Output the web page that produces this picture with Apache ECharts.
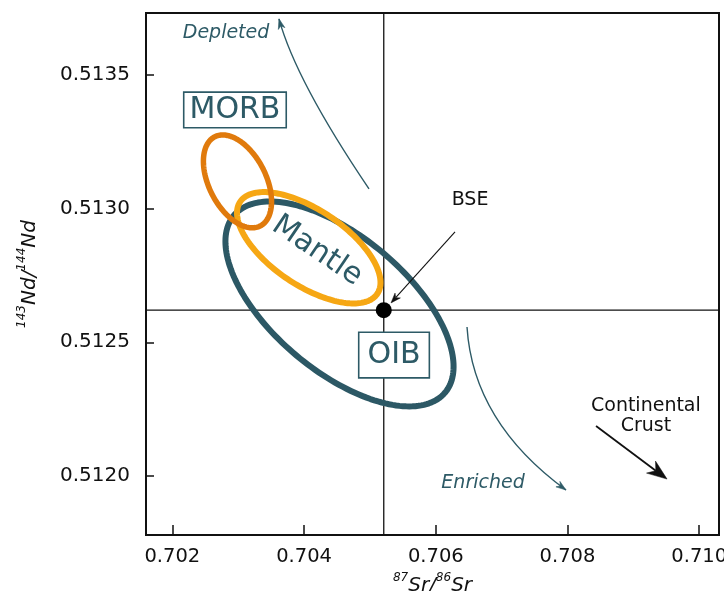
<!DOCTYPE html>
<html>
<head>
<meta charset="utf-8">
<script src="https://cdn.jsdelivr.net/npm/echarts@6/dist/echarts.min.js"></script>
<style>
  html, body { margin: 0; padding: 0; background: #ffffff; }
  #chart { width: 724px; height: 591px; }
</style>
</head>
<body>
<div id="chart"></div>
<script>
// Axis extents and tick values
const xRange = [0.7016, 0.7103];
const yRange = [0.51178, 0.51373];
const xTicks = [0.702, 0.704, 0.706, 0.708, 0.710];
const yTicks = [0.5120, 0.5125, 0.5130, 0.5135];

// Bulk Silicate Earth reference composition
const bse = [0.70521, 0.51262];

// Reservoir fields: centre plus the end points of two conjugate semi-axes
const fieldNames   = ['OIB', 'Mantle', 'MORB'];
const fieldCenterX = [0.704538, 0.704071, 0.702989];
const fieldCenterY = [0.512643, 0.512853, 0.513101];
const fieldMajorX  = [0.706141, 0.705112, 0.703331];
const fieldMajorY  = [0.512312, 0.512681, 0.512934];
const fieldMinorX  = [0.705194, 0.704392, 0.703377];
const fieldMinorY  = [0.512835, 0.512970, 0.513148];

// Curved evolution trends: start, control and end points
const trendNames  = ['Depleted', 'Enriched'];
const trendStartX = [0.704986, 0.706474];
const trendStartY = [0.513073, 0.512557];
const trendCtrlX  = [0.703878, 0.706565];
const trendCtrlY  = [0.513476, 0.512202];
const trendEndX   = [0.703619, 0.707977];
const trendEndY   = [0.513708, 0.511948];

// Straight pointers: BSE call-out and continental crust direction
const pointerNames  = ['BSE', 'Crust'];
const pointerStartX = [0.706292, 0.708433];
const pointerStartY = [0.512912, 0.512187];
const pointerEndX   = [0.705320, 0.709511];
const pointerEndY   = [0.512647, 0.511989];

// Text annotations
const labelTexts = ['Depleted', 'MORB', 'Mantle', 'OIB', 'Enriched', 'Continental\nCrust', 'BSE'];
const labelX = [0.702815, 0.702951, 0.704196, 0.705366, 0.706717, 0.709190, 0.706520];
const labelY = [0.513655, 0.513368, 0.512841, 0.512452, 0.511974, 0.512226, 0.513030];

// ---- styling ----
const FONT = 'DejaVu Sans';
const TEAL = '#2d5a66';
const INK = '#111111';
const fieldStyle = {
  OIB:    { color: '#2c5865', width: 6 },
  Mantle: { color: '#f6a714', width: 6 },
  MORB:   { color: '#e07a0c', width: 5.5 }
};
const pointerStyle = {
  BSE:   { color: '#111111', width: 1.1, head: 10, half: 3.6 },
  Crust: { color: '#111111', width: 1.8, head: 20, half: 7.5 }
};
const labelStyle = {
  'Depleted': { fontSize: 19, fontStyle: 'italic', color: TEAL },
  'Enriched': { fontSize: 19, fontStyle: 'italic', color: TEAL },
  'MORB': { fontSize: 30, color: TEAL, borderColor: TEAL, borderWidth: 1.6,
            backgroundColor: '#ffffff', padding: [3, 5, 1, 5] },
  'OIB':  { fontSize: 30, color: TEAL, borderColor: TEAL, borderWidth: 1.6,
            backgroundColor: '#ffffff', padding: [8, 8, 6, 8] },
  'Mantle': { fontSize: 30, color: TEAL, rotate: -34 },
  'Continental\nCrust': { fontSize: 19, color: INK, lineHeight: 20, align: 'center' },
  'BSE': { fontSize: 19, color: INK }
};

function arrowHead(tip, from, len, half) {
  const dx = tip[0] - from[0], dy = tip[1] - from[1];
  const d = Math.sqrt(dx * dx + dy * dy) || 1;
  const ux = dx / d, uy = dy / d, nx = -uy, ny = ux;
  return [
    tip,
    [tip[0] - ux * len + nx * half, tip[1] - uy * len + ny * half],
    [tip[0] - ux * len * 0.7, tip[1] - uy * len * 0.7],
    [tip[0] - ux * len - nx * half, tip[1] - uy * len - ny * half]
  ];
}

const chart = echarts.init(document.getElementById('chart'), null, { renderer: 'canvas' });

const nameRich = {
  it: { fontFamily: FONT, fontSize: 20, fontStyle: 'italic', color: INK, verticalAlign: 'bottom', lineHeight: 24 },
  sup: { fontFamily: FONT, fontSize: 12, fontStyle: 'italic', color: INK, verticalAlign: 'top', lineHeight: 12 }
};

const option = {
  animation: false,
  backgroundColor: '#ffffff',
  grid: { left: 146, right: 5, top: 13, bottom: 56, show: true,
          containLabel: false, outerBoundsMode: 'none',
          borderColor: INK, borderWidth: 2, backgroundColor: 'transparent' },
  xAxis: {
    type: 'value', min: xRange[0], max: xRange[1],
    name: '{sup|87}{it|Sr/}{sup|86}{it|Sr}',
    nameLocation: 'middle', nameGap: 27,
    nameTextStyle: { rich: nameRich },
    axisLine: { show: true, onZero: false, lineStyle: { color: INK, width: 2 } },
    axisTick: { show: true, inside: true, length: 10, customValues: xTicks, lineStyle: { color: INK, width: 1.5 } },
    axisLabel: { customValues: xTicks, margin: 12, fontFamily: FONT, fontSize: 19.5, color: INK,
                 formatter: v => v.toFixed(3) },
    splitLine: { show: false }
  },
  yAxis: {
    type: 'value', min: yRange[0], max: yRange[1],
    name: '{sup|143}{it|Nd/}{sup|144}{it|Nd}',
    nameLocation: 'middle', nameGap: 106, nameRotate: 90,
    nameTextStyle: { rich: nameRich },
    axisLine: { show: true, onZero: false, lineStyle: { color: INK, width: 2 } },
    axisTick: { show: true, inside: true, length: 8, customValues: yTicks, lineStyle: { color: INK, width: 1.5 } },
    axisLabel: { customValues: yTicks, margin: 16, fontFamily: FONT, fontSize: 20, color: INK,
                 formatter: v => v.toFixed(4) },
    splitLine: { show: false }
  },
  series: [
    {
      // crosshair through BSE spanning the plot area
      type: 'custom', z: 1, silent: true,
      data: [bse],
      encode: { x: 0, y: 1 },
      renderItem: function (params, api) {
        const p = api.coord(bse);
        const cs = params.coordSys;
        const style = { stroke: INK, lineWidth: 1.3 };
        return {
          type: 'group',
          children: [
            { type: 'line', shape: { x1: p[0], y1: cs.y, x2: p[0], y2: cs.y + cs.height }, style: style },
            { type: 'line', shape: { x1: cs.x, y1: p[1], x2: cs.x + cs.width, y2: p[1] }, style: style }
          ]
        };
      }
    },
    {
      // BSE point
      type: 'scatter', z: 6, silent: true,
      symbol: 'circle', symbolSize: 16,
      itemStyle: { color: '#000000', opacity: 1 },
      data: [bse]
    },
    {
      // reservoir ellipses
      type: 'custom', z: 3, silent: true,
      data: fieldNames.map((n, i) => [fieldCenterX[i], fieldCenterY[i]]),
      encode: { x: 0, y: 1 },
      renderItem: function (params, api) {
        const i = params.dataIndex;
        const st = fieldStyle[fieldNames[i]];
        const c = api.coord([fieldCenterX[i], fieldCenterY[i]]);
        const a = api.coord([fieldMajorX[i], fieldMajorY[i]]);
        const b = api.coord([fieldMinorX[i], fieldMinorY[i]]);
        const ux = a[0] - c[0], uy = a[1] - c[1];
        const vx = b[0] - c[0], vy = b[1] - c[1];
        const pts = [];
        const N = 180;
        for (let k = 0; k < N; k++) {
          const t = k / N * Math.PI * 2;
          pts.push([c[0] + ux * Math.cos(t) + vx * Math.sin(t),
                    c[1] + uy * Math.cos(t) + vy * Math.sin(t)]);
        }
        return { type: 'polygon', shape: { points: pts },
                 style: { fill: 'none', stroke: st.color, lineWidth: st.width, lineJoin: 'round' } };
      }
    },
    {
      // curved depletion / enrichment trends
      type: 'custom', z: 4, silent: true,
      data: trendNames.map((n, i) => [trendEndX[i], trendEndY[i]]),
      encode: { x: 0, y: 1 },
      renderItem: function (params, api) {
        const i = params.dataIndex;
        const p0 = api.coord([trendStartX[i], trendStartY[i]]);
        const cp = api.coord([trendCtrlX[i], trendCtrlY[i]]);
        const p2 = api.coord([trendEndX[i], trendEndY[i]]);
        return {
          type: 'group',
          children: [
            { type: 'bezierCurve',
              shape: { x1: p0[0], y1: p0[1], x2: p2[0], y2: p2[1], cpx1: cp[0], cpy1: cp[1] },
              style: { fill: 'none', stroke: TEAL, lineWidth: 1.4 } },
            { type: 'polygon', shape: { points: arrowHead(p2, cp, 10, 3.4) },
              style: { fill: TEAL, stroke: TEAL, lineWidth: 0.6 } }
          ]
        };
      }
    },
    {
      // straight pointers
      type: 'custom', z: 5, silent: true,
      data: pointerNames.map((n, i) => [pointerEndX[i], pointerEndY[i]]),
      encode: { x: 0, y: 1 },
      renderItem: function (params, api) {
        const i = params.dataIndex;
        const st = pointerStyle[pointerNames[i]];
        const p0 = api.coord([pointerStartX[i], pointerStartY[i]]);
        const p1 = api.coord([pointerEndX[i], pointerEndY[i]]);
        const head = arrowHead(p1, p0, st.head, st.half);
        return {
          type: 'group',
          children: [
            { type: 'line', shape: { x1: p0[0], y1: p0[1], x2: head[2][0], y2: head[2][1] },
              style: { stroke: st.color, lineWidth: st.width } },
            { type: 'polygon', shape: { points: head },
              style: { fill: st.color, stroke: st.color, lineWidth: 0.5 } }
          ]
        };
      }
    },
    {
      // text annotations
      type: 'scatter', z: 7, silent: true,
      symbolSize: 0,
      itemStyle: { opacity: 1 },
      data: labelTexts.map((t, i) => ({
        value: [labelX[i], labelY[i]],
        label: Object.assign({ show: true, position: 'inside', formatter: t, fontFamily: FONT, opacity: 1 }, labelStyle[t])
      }))
    }
  ]
};

chart.setOption(option);
</script>
</body>
</html>
